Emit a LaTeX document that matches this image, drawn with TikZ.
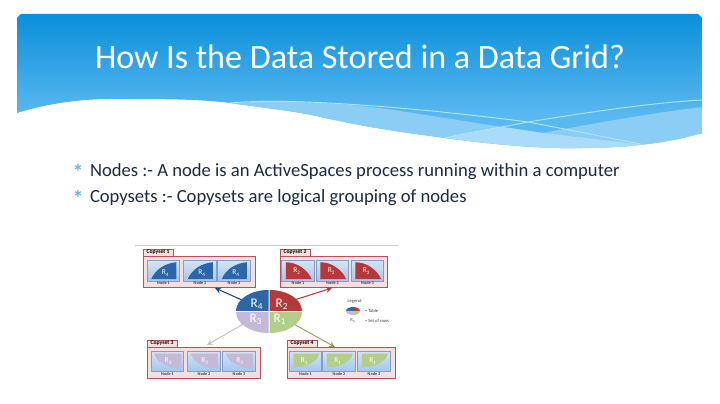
\documentclass[tikz,border=0pt]{standalone}
\usepackage{xcolor}
\usepackage{fontspec}
\setmainfont{Carlito}
\usetikzlibrary{shapes.geometric}
\definecolor{bodyink}{HTML}{1B2B44}
\definecolor{starblue}{HTML}{62B6E2}
\definecolor{boxline}{HTML}{B9505C}
\definecolor{boxfill}{HTML}{F5DEDE}
\definecolor{sliceblue}{HTML}{2C65A8}
\definecolor{slicered}{HTML}{B5393A}
\definecolor{slicelilac}{HTML}{C4BAD8}
\definecolor{slicegreen}{HTML}{B3CE88}
\definecolor{arrowolive}{HTML}{8E9A55}
\definecolor{bannertop}{HTML}{0A90DA}
\definecolor{bannerlow}{HTML}{5AB8F0}
\definecolor{waveone}{HTML}{8CCDF5}
\definecolor{wavetwo}{HTML}{AADCFA}
\definecolor{paneltop}{HTML}{D5E3F3}
\definecolor{panellow}{HTML}{A3C6F0}
\begin{document}
\begin{tikzpicture}[x=0.02cm, y=-0.02cm,
    every node/.style={inner sep=0pt, outer sep=0pt},
    copybox/.style={draw=boxline, fill=boxfill, line width=0.5pt, anchor=north west, minimum height=0.62cm},
    copytab/.style={draw=boxline, fill=boxfill, line width=0.4pt, anchor=south west, minimum width=0.6cm, minimum height=0.14cm, font=\bfseries\fontsize{3.2}{4}\selectfont},
    panel/.style={draw=panellow!80!black, line width=0.3pt, top color=paneltop, bottom color=panellow, minimum width=0.65cm, minimum height=0.41cm},
    nodetag/.style={font=\bfseries\fontsize{2.4}{3}\selectfont, text=black!75},
    slicetag/.style={text=white, font=\fontsize{7.5}{8}\selectfont},
    paneltag/.style={text=white, font=\fontsize{4.2}{5}\selectfont},
    legendtag/.style={font=\fontsize{2.6}{3}\selectfont, text=black!75},
    startag/.style={text=starblue, font=\bfseries\fontsize{12}{12}\selectfont},
    bullettext/.style={anchor=west, text=bodyink, font=\fontsize{10.6}{12}\selectfont}]

    % Frame of the slide
    \fill[white] (0,0) rectangle (720,404);
    \useasboundingbox (0,0) rectangle (720,404);

    % Banner with its wave
    \begin{scope}
        \path[clip] (17,113) .. controls (45,104) and (80,99) .. (110,99)
            .. controls (160,99) and (200,99) .. (230,103)
            .. controls (265,108) and (295,111) .. (321,117)
            .. controls (365,127) and (400,132) .. (445,138)
            .. controls (490,144) and (540,149) .. (583,148)
            .. controls (620,148) and (665,144) .. (702,133)
            -- (702,18) -- (698,14) -- (21,14) -- (17,18) -- cycle;
        \shade[top color=bannertop, bottom color=bannerlow] (17,14) rectangle (702,115);
        \fill[bannerlow] (17,115) rectangle (702,150);
        % Lighter layers under the two white lines
        \fill[waveone] (230,103) .. controls (290,100) and (350,103) .. (400,111)
            .. controls (440,117) and (500,127) .. (543,133) .. controls (600,122) and (660,112) .. (702,107)
            -- (702,150) -- (230,150) -- cycle;
        \fill[wavetwo] (445,138) -- (503,127) -- (543,133) -- (645,145) -- (645,150) -- (445,150) -- cycle;
        \draw[white!70!cyan, line width=0.5pt] (230,103) .. controls (290,97) and (420,108) .. (528,122)
            .. controls (570,130) and (610,138) .. (645,145);
        \draw[white!70!cyan, line width=0.5pt] (445,138) .. controls (480,130) and (510,126) .. (528,122)
            .. controls (590,112) and (650,103) .. (702,100);
    \end{scope}

    % Texts of the slide
    \node (Title) [text=white, font=\fontsize{19.4}{24}\selectfont] at (360,57) {How Is the Data Stored in a Data Grid?};
    \node (StarA) [startag] at (78,172) {*};
    \node (StarB) [startag] at (78,198) {*};
    \node (NodesLine) [bullettext] at (90,171.5) {Nodes :- A node is an ActiveSpaces process running within a computer};
    \node (CopysetsLine) [bullettext] at (90,197.5) {Copysets :- Copysets are logical grouping of nodes};

    % Top edge of the figure
    \draw[black!20, line width=0.5pt] (135,245) -- (398,245);

    % Copyset boxes
    \node (Box1) [copybox, minimum width=2.24cm] at (143,256) {};
    \node (Box2) [copybox, minimum width=2.14cm] at (280,256) {};
    \node (Box3) [copybox, minimum width=2.26cm] at (147,347) {};
    \node (Box4) [copybox, minimum width=2.16cm] at (287,347) {};
    \node (Tab1) [copytab] at (Box1.north west) {Copyset 1};
    \node (Tab2) [copytab] at (Box2.north west) {Copyset 2};
    \node (Tab3) [copytab] at (Box3.north west) {Copyset 3};
    \node (Tab4) [copytab] at (Box4.north west) {Copyset 4};

    % Panels of Copyset 1
    \foreach \k/\px in {1/163.5, 2/200, 3/234} {
        \node (PanelA\k) [panel] at (\px,271) {};
        \fill[sliceblue, shift={(PanelA\k.south west)}] (4,-2) .. controls (8,-12) and (18,-18) .. (29,-19) -- (29,-2) -- cycle;
        \node (TagA\k) [paneltag] at (\px+2,273.5) {R\textsubscript{4}};
        \node (NodeA\k) [nodetag] at (\px,283.5) {Node \k};
    }
    % Panels of Copyset 2
    \foreach \k/\px in {1/298, 2/332.5, 3/367.5} {
        \node (PanelB\k) [panel] at (\px,271) {};
        \fill[slicered, shift={(PanelB\k.south west)}] (4,-19) .. controls (16,-19) and (26,-11) .. (30,-2) -- (4,-2) -- cycle;
        \node (TagB\k) [paneltag] at (\px-1,271.5) {R\textsubscript{2}};
        \node (NodeB\k) [nodetag] at (\px,283.5) {Node \k};
    }
    % Panels of Copyset 3
    \foreach \k/\px in {1/167.5, 2/204, 3/239} {
        \node (PanelC\k) [panel] at (\px,361.5) {};
        \fill[slicelilac, shift={(PanelC\k.south west)}] (3,-18) .. controls (6,-9) and (16,-4) .. (30,-3) -- (30,-18) -- cycle;
        \node (TagC\k) [paneltag] at (\px+1,361) {R\textsubscript{3}};
        \node (NodeC\k) [nodetag] at (\px,374.5) {Node \k};
    }
    % Panels of Copyset 4
    \foreach \k/\px in {1/305.5, 2/339, 3/374} {
        \node (PanelD\k) [panel] at (\px,361.5) {};
        \fill[slicegreen, shift={(PanelD\k.south west)}] (4,-4) -- (4,-18) -- (30,-18) .. controls (28,-10) and (18,-5) .. (4,-4) -- cycle;
        \node (TagD\k) [paneltag] at (\px-1,361) {R\textsubscript{1}};
        \node (NodeD\k) [nodetag] at (\px,374.5) {Node \k};
    }

    % The table split in four
    \node (Pie) [ellipse, minimum width=1.32cm, minimum height=0.86cm] at (269,311.5) {};
    \fill[sliceblue] (268.5,311) -- (236,311) arc[start angle=180, end angle=270, x radius=32.5, y radius=21] -- cycle;
    \fill[slicered] (269.5,311) -- (302,311) arc[start angle=0, end angle=-90, x radius=32.5, y radius=21] -- cycle;
    \fill[slicelilac] (268.5,312) -- (236,312) arc[start angle=180, end angle=90, x radius=32.5, y radius=21] -- cycle;
    \fill[slicegreen] (269.5,312) -- (302,312) arc[start angle=0, end angle=90, x radius=32.5, y radius=21] -- cycle;
    \node (SliceR4) [slicetag] at (257,304) {R\textsubscript{4}};
    \node (SliceR2) [slicetag] at (282,304) {R\textsubscript{2}};
    \node (SliceR3) [slicetag] at (256,319) {R\textsubscript{3}};
    \node (SliceR1) [slicetag] at (280,319) {R\textsubscript{1}};

    % Arrows
    \coordinate (Tip1) at (215,288);
    \coordinate (Tip2) at (332,288);
    \coordinate (Tip3) at (207,345);
    \coordinate (Tip4) at (335,347);
    \draw[->, >=stealth, sliceblue!70!black, line width=0.6pt] (Pie.157) -- (Tip1);
    \draw[->, >=stealth, slicered, line width=0.6pt] (Pie.24) -- (Tip2);
    \draw[->, >=stealth, black!25, line width=0.5pt] (Pie.206) -- (Tip3);
    \draw[->, >=stealth, arrowolive, line width=0.5pt] (Pie.-27) -- (Tip4);

    % Legend
    \node (LegendHead) [legendtag] at (355,301) {Legend:};
    \node (LegendPie) [ellipse, minimum width=0.28cm, minimum height=0.16cm] at (353,311) {};
    \fill[sliceblue] (353,311) -- (346,311) arc[start angle=180, end angle=270, x radius=7, y radius=4] -- cycle;
    \fill[slicered] (353,311) -- (360,311) arc[start angle=0, end angle=-90, x radius=7, y radius=4] -- cycle;
    \fill[slicelilac] (353,311) -- (346,311) arc[start angle=180, end angle=90, x radius=7, y radius=4] -- cycle;
    \fill[slicegreen] (353,311) -- (360,311) arc[start angle=0, end angle=90, x radius=7, y radius=4] -- cycle;
    \node (LegendTable) [legendtag, anchor=west] at (365,310.5) {= Table};
    \node (LegendR) [legendtag] at (353,320.5) {R\textsubscript{n}};
    \node (LegendRows) [legendtag, anchor=west] at (365,320.5) {= Set of rows};
\end{tikzpicture}
\end{document}
